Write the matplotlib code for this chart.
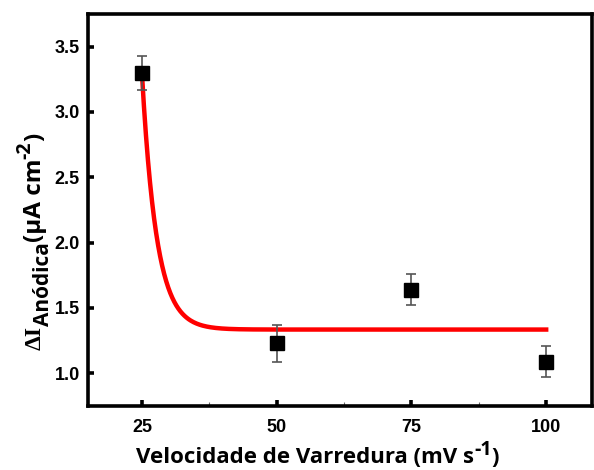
import numpy as np
import matplotlib
matplotlib.use('Agg')
import matplotlib.pyplot as plt

# scan rate (mV/s) and anodic current difference
scan_rate = [25, 50, 75, 100]
delta_i = [3.30, 1.23, 1.64, 1.09]
delta_err = [0.13, 0.14, 0.12, 0.12]

# exponential decay fit: y = y0 + A * exp(-(x - 25) / t)
fit_y0 = 1.335
fit_amp = 1.965
fit_t = 2.7

x_ticks = [25, 50, 75, 100]
y_ticks = [1.0, 1.5, 2.0, 2.5, 3.0, 3.5]

plt.rcParams['font.family'] = ['Liberation Sans', 'DejaVu Sans']

W, H = 594, 470
fig = plt.figure(figsize=(W / 100, H / 100), dpi=100)
ax = fig.add_axes([88 / W, 1 - 406 / H, 504 / W, 392 / H])

fit_x = np.linspace(25, 100, 400)
fit_line = fit_y0 + fit_amp * np.exp(-(fit_x - 25) / fit_t)
ax.plot(fit_x, fit_line, color='#ff0000', lw=3.2, zorder=2)

ax.errorbar(scan_rate, delta_i, yerr=delta_err, fmt='s', color='black',
            ms=10, ecolor='#555555', elinewidth=1.2, capsize=3.5, capthick=1.2,
            zorder=3)

ax.set_xlim(15, 108.5)
ax.set_ylim(0.75, 3.75)
ax.set_xticks(x_ticks)
ax.set_xticks([37.5, 62.5, 87.5], minor=True)
ax.set_yticks(y_ticks)
ax.set_yticklabels([f'{v:.1f}' for v in y_ticks])

for sp in ax.spines.values():
    sp.set_linewidth(2.6)
ax.tick_params(which='major', direction='in', length=4, width=2.6,
               labelsize=13, pad=6)
ax.tick_params(axis='x', which='major', pad=9)
ax.tick_params(which='minor', direction='in', length=3, width=0.8, color='#666666')
ax.tick_params(axis='y', which='minor', left=False)
for lab in ax.get_xticklabels() + ax.get_yticklabels():
    lab.set_fontweight('bold')


def piece(text, prev, pos, shift=0, rot=0, size=16, family='Open Sans'):
    # place a text piece right after the previous one (along the reading direction)
    if rot == 0:
        coords = (prev, 'figure fraction') if prev is not None else 'figure fraction'
        xy = (1, pos) if prev is not None else pos
        off = (0, shift)
    else:
        coords = ('figure fraction', prev) if prev is not None else 'figure fraction'
        xy = (pos, 1) if prev is not None else pos
        off = (shift, 0)
    return ax.annotate(text, xy=xy, xycoords=coords, xytext=off,
                       textcoords='offset points', ha='left', va='baseline',
                       rotation=rot, rotation_mode='anchor', fontsize=size,
                       family=family, fontweight='bold', annotation_clip=False)


# x label
xb = 7 / H
t = piece('Velocidade de Varredura (mV s', None, (136 / W, xb), size=16)
t = piece('-1', t, xb, shift=6, size=14)
t = piece(')', t, xb, size=16)

# y label (rotated: positive shift lowers the text)
yb = 41 / W
t = piece('ΔI', None, (yb, 1 - 350 / H), rot=90, size=17, family='Liberation Serif')
t = piece('Anódica', t, yb, shift=5.5, rot=90, size=15)
t = piece('(μA cm', t, yb, rot=90, size=17.5)
t = piece('-2', t, yb, shift=-8, rot=90, size=14)
t = piece(')', t, yb, rot=90, size=17.5)

fig.savefig('out.png', dpi=100)
